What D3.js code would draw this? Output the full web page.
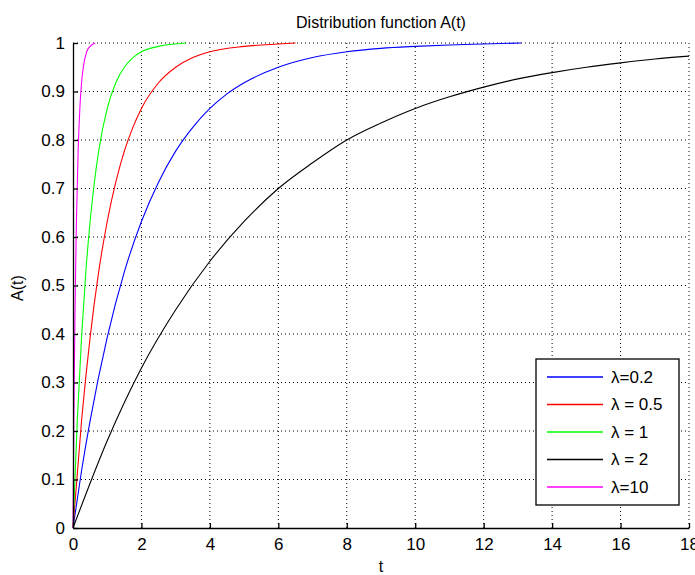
<!DOCTYPE html>
<html>
<head>
<meta charset="utf-8">
<script src="https://cdn.jsdelivr.net/npm/d3@7"></script>
<style>
  body { margin: 0; background: #fff; }
  svg text { font-family: "Liberation Sans", Arial, sans-serif; fill: #000; }
</style>
</head>
<body>
<svg id="chart" width="695" height="575"></svg>
<script>
// Values: t and A(t) per curve
var blueT  = [0, 0.25, 0.5, 1, 1.5, 2, 2.5, 3, 3.5, 4, 4.5, 5, 6, 7, 8, 9, 10, 11, 12, 13.1];
var blueA  = [0, 0.118, 0.221, 0.393, 0.528, 0.632, 0.713, 0.777, 0.826, 0.865, 0.895, 0.918, 0.95, 0.97, 0.982, 0.989, 0.993, 0.996, 0.998, 1.0];
var redT   = [0, 0.25, 0.5, 0.75, 1, 1.25, 1.5, 1.75, 2, 2.5, 3, 3.5, 4, 5, 6, 6.5];
var redA   = [0, 0.221, 0.393, 0.528, 0.632, 0.713, 0.777, 0.826, 0.865, 0.918, 0.95, 0.97, 0.982, 0.993, 0.998, 1.0];
var greenT = [0, 0.125, 0.25, 0.375, 0.5, 0.625, 0.75, 1, 1.25, 1.5, 1.75, 2, 2.5, 3.3];
var greenA = [0, 0.221, 0.393, 0.528, 0.632, 0.713, 0.777, 0.865, 0.918, 0.95, 0.97, 0.982, 0.993, 1.0];
var blackT = [0, 1, 2, 3, 4, 5, 6, 7, 8, 9, 10, 11, 12, 13, 14, 15, 16, 17, 18];
var blackA = [0, 0.18, 0.33, 0.45, 0.55, 0.632, 0.70, 0.753, 0.80, 0.835, 0.865, 0.889, 0.909, 0.926, 0.939, 0.95, 0.959, 0.967, 0.973];
var magT   = [0, 0.025, 0.05, 0.075, 0.1, 0.15, 0.2, 0.25, 0.3, 0.4, 0.5, 0.65];
var magA   = [0, 0.221, 0.393, 0.528, 0.632, 0.777, 0.865, 0.918, 0.95, 0.982, 0.993, 1.0];

var legendLabels = ["\u03bb=0.2", "\u03bb = 0.5", "\u03bb = 1", "\u03bb = 2", "\u03bb=10"];
var lineColors = ["#0000ff", "#ff0000", "#00ff00", "#000000", "#ff00ff"];
var xTicks = [0, 2, 4, 6, 8, 10, 12, 14, 16, 18];
var yTicks = [0, 0.1, 0.2, 0.3, 0.4, 0.5, 0.6, 0.7, 0.8, 0.9, 1];

var series = [
  {t: blueT, a: blueA},
  {t: redT, a: redA},
  {t: greenT, a: greenA},
  {t: blackT, a: blackA},
  {t: magT, a: magA}
];

var svg = d3.select("#chart");
var padLeft = 73, padRight = 689, padTop = 43, padBottom = 528;

var x = d3.scaleLinear().domain([0, 18]).range([padLeft, padRight]);
var y = d3.scaleLinear().domain([0, 1]).range([padBottom, padTop]);

// dotted grid
var grid = svg.append("g");
grid.selectAll(".gx").data(xTicks.slice(1)).enter().append("line")
  .attr("x1", d => x(d)).attr("x2", d => x(d))
  .attr("y1", padBottom).attr("y2", padTop)
  .style("stroke", "#000").style("stroke-width", 1)
  .style("stroke-dasharray", "1,3");
grid.selectAll(".gy").data(yTicks.slice(1)).enter().append("line")
  .attr("x1", padLeft).attr("x2", padRight)
  .attr("y1", d => y(d)).attr("y2", d => y(d))
  .style("stroke", "#000").style("stroke-width", 1)
  .style("stroke-dasharray", "1,3");

// curves
var line = d3.line()
  .x(d => x(d[0]))
  .y(d => y(d[1]))
  .curve(d3.curveMonotoneX);

series.forEach(function(s, i) {
  svg.append("path")
    .datum(s.t.map((t, j) => [t, s.a[j]]))
    .attr("d", line)
    .style("fill", "none")
    .style("stroke", lineColors[i])
    .style("stroke-width", 1.1);
});

// axes (ticks point inward like matlab)
var xAxis = d3.axisBottom(x).tickValues(xTicks).tickSizeInner(-5).tickSizeOuter(0).tickPadding(10);
var yAxis = d3.axisLeft(y).tickValues(yTicks).tickSizeInner(-5).tickSizeOuter(0).tickPadding(8)
  .tickFormat(d3.format("~g"));

var gx = svg.append("g").attr("transform", "translate(0," + padBottom + ")").call(xAxis);
var gy = svg.append("g").attr("transform", "translate(" + padLeft + ",0)").call(yAxis);
[gx, gy].forEach(function(g) {
  g.selectAll("path, line").style("stroke", "#000").style("stroke-width", 1.3);
  g.selectAll("text").style("font-size", "17px").style("font-family", "'Liberation Sans', Arial, sans-serif");
});

// title and labels
svg.append("text").attr("x", (padLeft + padRight) / 2).attr("y", 28)
  .attr("text-anchor", "middle").style("font-size", "16px")
  .text("Distribution function A(t)");
svg.append("text").attr("x", (padLeft + padRight) / 2).attr("y", 572)
  .attr("text-anchor", "middle").style("font-size", "16px").text("t");
svg.append("text").attr("transform", "translate(23,288) rotate(-90)")
  .attr("text-anchor", "middle").style("font-size", "16px").text("A(t)");

// legend
var legend = svg.append("g");
legend.append("rect")
  .attr("x", 536).attr("y", 359).attr("width", 143).attr("height", 146)
  .style("fill", "#fff").style("stroke", "#000").style("stroke-width", 1.3);
var rows = legend.selectAll(".row").data(legendLabels).enter().append("g")
  .attr("transform", (d, i) => "translate(0," + (377 + i * 27.5) + ")");
rows.append("line")
  .attr("x1", 547).attr("x2", 603).attr("y1", 0).attr("y2", 0)
  .style("stroke", (d, i) => lineColors[i]).style("stroke-width", 1.5);
rows.append("text")
  .attr("x", 611).attr("y", 0).attr("dy", "0.35em")
  .style("font-size", "17px").text(d => d);
</script>
</body>
</html>
